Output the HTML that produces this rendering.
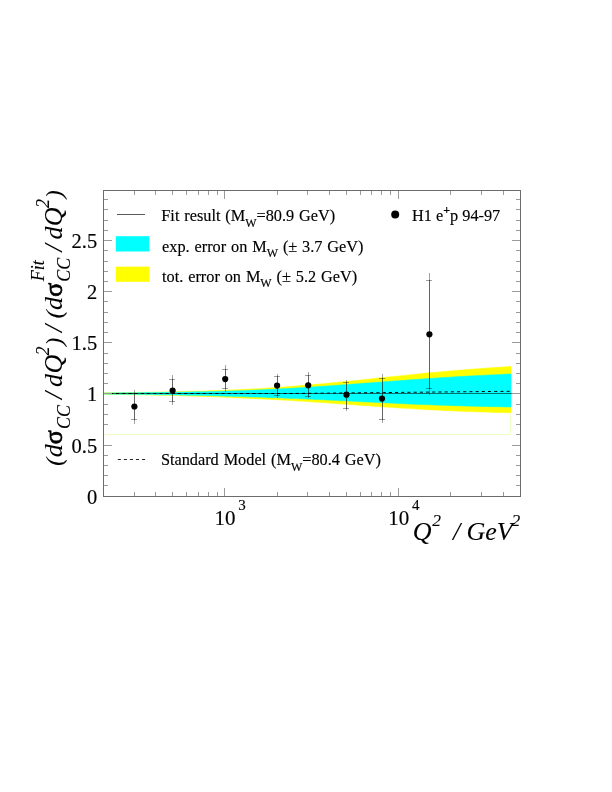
<!DOCTYPE html>
<html><head><meta charset="utf-8"><title>H1 CC cross section ratio</title>
<style>html,body{margin:0;padding:0;background:#fff;overflow:hidden}svg{display:block}text{font-family:"Liberation Serif",serif;fill:#000;stroke:#000;stroke-width:0.15px;stroke-linejoin:round}.i{font-style:italic}.i text{stroke-width:0.08px}.i text.sg{stroke-width:0.75px}</style></head><body>
<svg width="612" height="792" viewBox="0 0 612 792">
<rect width="612" height="792" fill="#fff"/>
<polygon points="103.60,392.79 108.69,392.74 113.78,392.69 118.88,392.63 123.97,392.57 129.06,392.51 134.16,392.44 139.25,392.37 144.34,392.30 149.43,392.22 154.52,392.13 159.62,392.04 164.71,391.94 169.80,391.84 174.89,391.73 179.99,391.62 185.08,391.49 190.17,391.36 195.26,391.23 200.36,391.08 205.45,390.93 210.54,390.76 215.63,390.59 220.73,390.41 225.82,390.22 230.91,390.02 236.00,389.80 241.10,389.58 246.19,389.35 251.28,389.09 256.38,388.78 261.47,388.47 266.56,388.14 271.65,387.80 276.75,387.44 281.84,387.07 286.93,386.69 292.02,386.30 297.12,385.90 302.21,385.48 307.30,385.05 312.39,384.61 317.49,384.16 322.58,383.69 327.67,383.22 332.76,382.73 337.85,382.24 342.95,381.74 348.04,381.23 353.13,380.71 358.23,380.19 363.32,379.66 368.41,379.13 373.50,378.60 378.60,378.07 383.69,377.53 388.78,377.00 393.87,376.46 398.96,375.93 404.06,375.41 409.15,374.88 414.24,374.37 419.34,373.86 424.43,373.36 429.52,372.87 434.61,372.39 439.70,371.91 444.80,371.45 449.89,371.00 454.98,370.56 460.08,370.13 465.17,369.72 470.26,369.31 475.35,368.92 480.44,368.55 485.54,368.18 490.63,367.83 495.72,367.49 500.81,367.16 505.91,366.85 511.00,366.54 511.00,412.81 505.91,412.69 500.81,412.56 495.72,412.43 490.63,412.28 485.54,412.12 480.44,411.96 475.35,411.78 470.26,411.59 465.17,411.40 460.08,411.19 454.98,410.98 449.89,410.75 444.80,410.51 439.70,410.26 434.61,410.01 429.52,409.74 424.43,409.46 419.34,409.17 414.24,408.87 409.15,408.57 404.06,408.25 398.96,407.93 393.87,407.60 388.78,407.26 383.69,406.91 378.60,406.57 373.50,406.21 368.41,405.85 363.32,405.49 358.23,405.13 353.13,404.76 348.04,404.40 342.95,404.04 337.85,403.67 332.76,403.31 327.67,402.96 322.58,402.61 317.49,402.26 312.39,401.92 307.30,401.58 302.21,401.25 297.12,400.93 292.02,400.62 286.93,400.32 281.84,400.03 276.75,399.74 271.65,399.47 266.56,399.20 261.47,398.95 256.38,398.71 251.28,398.47 246.19,398.22 241.10,397.97 236.00,397.73 230.91,397.50 225.82,397.28 220.73,397.07 215.63,396.87 210.54,396.68 205.45,396.50 200.36,396.33 195.26,396.16 190.17,396.01 185.08,395.86 179.99,395.72 174.89,395.59 169.80,395.46 164.71,395.34 159.62,395.23 154.52,395.13 149.43,395.03 144.34,394.93 139.25,394.84 134.16,394.76 129.06,394.68 123.97,394.61 118.88,394.54 113.78,394.48 108.69,394.41 103.60,394.36" fill="#ffff00" stroke="#ffff00" stroke-width="0.5"/>
<polygon points="103.60,392.98 108.69,392.94 113.78,392.91 118.88,392.87 123.97,392.82 129.06,392.78 134.16,392.73 139.25,392.68 144.34,392.62 149.43,392.56 154.52,392.50 159.62,392.44 164.71,392.37 169.80,392.29 174.89,392.21 179.99,392.13 185.08,392.04 190.17,391.95 195.26,391.85 200.36,391.74 205.45,391.63 210.54,391.51 215.63,391.39 220.73,391.26 225.82,391.12 230.91,390.97 236.00,390.82 241.10,390.66 246.19,390.49 251.28,390.30 256.38,390.07 261.47,389.83 266.56,389.58 271.65,389.32 276.75,389.06 281.84,388.78 286.93,388.50 292.02,388.20 297.12,387.90 302.21,387.59 307.30,387.28 312.39,386.95 317.49,386.62 322.58,386.27 327.67,385.93 332.76,385.57 337.85,385.21 342.95,384.85 348.04,384.47 353.13,384.10 358.23,383.72 363.32,383.34 368.41,382.96 373.50,382.57 378.60,382.19 383.69,381.80 388.78,381.42 393.87,381.04 398.96,380.66 404.06,380.28 409.15,379.91 414.24,379.54 419.34,379.18 424.43,378.83 429.52,378.48 434.61,378.13 439.70,377.80 444.80,377.47 449.89,377.15 454.98,376.84 460.08,376.53 465.17,376.24 470.26,375.95 475.35,375.67 480.44,375.40 485.54,375.14 490.63,374.89 495.72,374.65 500.81,374.41 505.91,374.19 511.00,373.97 511.00,407.00 505.91,406.92 500.81,406.83 495.72,406.73 490.63,406.63 485.54,406.52 480.44,406.40 475.35,406.28 470.26,406.15 465.17,406.01 460.08,405.86 454.98,405.70 449.89,405.54 444.80,405.37 439.70,405.19 434.61,405.01 429.52,404.82 424.43,404.62 419.34,404.41 414.24,404.20 409.15,403.98 404.06,403.75 398.96,403.52 393.87,403.28 388.78,403.04 383.69,402.80 378.60,402.55 373.50,402.30 368.41,402.05 363.32,401.79 358.23,401.53 353.13,401.28 348.04,401.02 342.95,400.77 337.85,400.51 332.76,400.26 327.67,400.02 322.58,399.77 317.49,399.53 312.39,399.30 307.30,399.07 302.21,398.84 297.12,398.62 292.02,398.41 286.93,398.21 281.84,398.01 276.75,397.82 271.65,397.63 266.56,397.45 261.47,397.29 256.38,397.12 251.28,396.97 246.19,396.80 241.10,396.62 236.00,396.45 230.91,396.29 225.82,396.13 220.73,395.99 215.63,395.85 210.54,395.71 205.45,395.58 200.36,395.46 195.26,395.35 190.17,395.24 185.08,395.14 179.99,395.04 174.89,394.95 169.80,394.86 164.71,394.78 159.62,394.70 154.52,394.63 149.43,394.56 144.34,394.49 139.25,394.43 134.16,394.37 129.06,394.32 123.97,394.27 118.88,394.22 113.78,394.18 108.69,394.13 103.60,394.09" fill="#00ffff" stroke="#00ffff" stroke-width="0.5"/>
<line x1="103.6" y1="393.5" x2="520.6" y2="393.5" stroke="#000" stroke-width="1" stroke-opacity="0.55"/>
<polyline points="103.60,393.50 108.69,393.50 113.78,393.50 118.88,393.50 123.97,393.50 129.06,393.50 134.16,393.50 139.25,393.50 144.34,393.50 149.43,393.50 154.52,393.50 159.62,393.50 164.71,393.50 169.80,393.50 174.89,393.50 179.99,393.50 185.08,393.50 190.17,393.50 195.26,393.50 200.36,393.50 205.45,393.50 210.54,393.50 215.63,393.50 220.73,393.50 225.82,393.50 230.91,393.50 236.00,393.50 241.10,393.50 246.19,393.50 251.28,393.50 256.38,393.50 261.47,393.50 266.56,393.50 271.65,393.50 276.75,393.50 281.84,393.50 286.93,393.50 292.02,393.48 297.12,393.43 302.21,393.38 307.30,393.33 312.39,393.28 317.49,393.23 322.58,393.18 327.67,393.13 332.76,393.07 337.85,393.02 342.95,392.97 348.04,392.92 353.13,392.87 358.23,392.82 363.32,392.77 368.41,392.72 373.50,392.67 378.60,392.62 383.69,392.57 388.78,392.52 393.87,392.47 398.96,392.42 404.06,392.36 409.15,392.31 414.24,392.26 419.34,392.21 424.43,392.16 429.52,392.11 434.61,392.06 439.70,392.01 444.80,391.96 449.89,391.91 454.98,391.86 460.08,391.81 465.17,391.76 470.26,391.71 475.35,391.65 480.44,391.60 485.54,391.55 490.63,391.50 495.72,391.45 500.81,391.40 505.91,391.35 511.00,391.30" fill="none" stroke="#000" stroke-width="1.0" stroke-dasharray="3.1 3.1"/>
<g fill="#9a9a9a"><rect x="104" y="485" width="4" height="1"/><rect x="516" y="485" width="4" height="1"/><rect x="104" y="475" width="4" height="1"/><rect x="516" y="475" width="4" height="1"/><rect x="104" y="465" width="4" height="1"/><rect x="516" y="465" width="4" height="1"/><rect x="104" y="455" width="4" height="1"/><rect x="516" y="455" width="4" height="1"/><rect x="104" y="445" width="8" height="1"/><rect x="512" y="445" width="8" height="1"/><rect x="104" y="434" width="4" height="1"/><rect x="516" y="434" width="4" height="1"/><rect x="104" y="424" width="4" height="1"/><rect x="516" y="424" width="4" height="1"/><rect x="104" y="414" width="4" height="1"/><rect x="516" y="414" width="4" height="1"/><rect x="104" y="404" width="4" height="1"/><rect x="516" y="404" width="4" height="1"/><rect x="104" y="393" width="8" height="1"/><rect x="512" y="393" width="8" height="1"/><rect x="104" y="383" width="4" height="1"/><rect x="516" y="383" width="4" height="1"/><rect x="104" y="373" width="4" height="1"/><rect x="516" y="373" width="4" height="1"/><rect x="104" y="363" width="4" height="1"/><rect x="516" y="363" width="4" height="1"/><rect x="104" y="353" width="4" height="1"/><rect x="516" y="353" width="4" height="1"/><rect x="104" y="342" width="8" height="1"/><rect x="512" y="342" width="8" height="1"/><rect x="104" y="332" width="4" height="1"/><rect x="516" y="332" width="4" height="1"/><rect x="104" y="322" width="4" height="1"/><rect x="516" y="322" width="4" height="1"/><rect x="104" y="312" width="4" height="1"/><rect x="516" y="312" width="4" height="1"/><rect x="104" y="301" width="4" height="1"/><rect x="516" y="301" width="4" height="1"/><rect x="104" y="291" width="8" height="1"/><rect x="512" y="291" width="8" height="1"/><rect x="104" y="281" width="4" height="1"/><rect x="516" y="281" width="4" height="1"/><rect x="104" y="271" width="4" height="1"/><rect x="516" y="271" width="4" height="1"/><rect x="104" y="261" width="4" height="1"/><rect x="516" y="261" width="4" height="1"/><rect x="104" y="250" width="4" height="1"/><rect x="516" y="250" width="4" height="1"/><rect x="104" y="240" width="8" height="1"/><rect x="512" y="240" width="8" height="1"/><rect x="104" y="230" width="4" height="1"/><rect x="516" y="230" width="4" height="1"/><rect x="104" y="220" width="4" height="1"/><rect x="516" y="220" width="4" height="1"/><rect x="104" y="209" width="4" height="1"/><rect x="516" y="209" width="4" height="1"/><rect x="104" y="199" width="4" height="1"/><rect x="516" y="199" width="4" height="1"/><rect x="134" y="492" width="1" height="4"/><rect x="134" y="191" width="1" height="4"/><rect x="155" y="492" width="1" height="4"/><rect x="155" y="191" width="1" height="4"/><rect x="172" y="492" width="1" height="4"/><rect x="172" y="191" width="1" height="4"/><rect x="186" y="492" width="1" height="4"/><rect x="186" y="191" width="1" height="4"/><rect x="198" y="492" width="1" height="4"/><rect x="198" y="191" width="1" height="4"/><rect x="208" y="492" width="1" height="4"/><rect x="208" y="191" width="1" height="4"/><rect x="217" y="492" width="1" height="4"/><rect x="217" y="191" width="1" height="4"/><rect x="224" y="488" width="1" height="8"/><rect x="224" y="191" width="1" height="8"/><rect x="277" y="492" width="1" height="4"/><rect x="277" y="191" width="1" height="4"/><rect x="307" y="492" width="1" height="4"/><rect x="307" y="191" width="1" height="4"/><rect x="329" y="492" width="1" height="4"/><rect x="329" y="191" width="1" height="4"/><rect x="346" y="492" width="1" height="4"/><rect x="346" y="191" width="1" height="4"/><rect x="360" y="492" width="1" height="4"/><rect x="360" y="191" width="1" height="4"/><rect x="371" y="492" width="1" height="4"/><rect x="371" y="191" width="1" height="4"/><rect x="381" y="492" width="1" height="4"/><rect x="381" y="191" width="1" height="4"/><rect x="390" y="492" width="1" height="4"/><rect x="390" y="191" width="1" height="4"/><rect x="398" y="488" width="1" height="8"/><rect x="398" y="191" width="1" height="8"/><rect x="450" y="492" width="1" height="4"/><rect x="450" y="191" width="1" height="4"/><rect x="481" y="492" width="1" height="4"/><rect x="481" y="191" width="1" height="4"/><rect x="503" y="492" width="1" height="4"/><rect x="503" y="191" width="1" height="4"/></g>
<path d="M104 434.5 H510.5 V414" fill="none" stroke="#ecffc8" stroke-width="1"/>
<g fill="#6c6c6c"><rect x="103" y="190" width="418" height="1"/><rect x="103" y="496" width="418" height="1"/><rect x="103" y="190" width="1" height="307"/><rect x="520" y="190" width="1" height="307"/></g>
<g fill="#000" fill-opacity="0.37"><rect x="134" y="390" width="1" height="34"/><rect x="134" y="393" width="1" height="27"/><rect x="131" y="393" width="6" height="1"/><rect x="131" y="419" width="6" height="1"/><rect x="172" y="375" width="1" height="30"/><rect x="172" y="379" width="1" height="23"/><rect x="169" y="379" width="6" height="1"/><rect x="169" y="401" width="6" height="1"/><rect x="225" y="365" width="1" height="27"/><rect x="225" y="369" width="1" height="20"/><rect x="222" y="369" width="6" height="1"/><rect x="222" y="388" width="6" height="1"/><rect x="277" y="374" width="1" height="24"/><rect x="277" y="376" width="1" height="20"/><rect x="274" y="376" width="6" height="1"/><rect x="274" y="395" width="6" height="1"/><rect x="308" y="372" width="1" height="26"/><rect x="308" y="375" width="1" height="22"/><rect x="305" y="375" width="6" height="1"/><rect x="305" y="396" width="6" height="1"/><rect x="346" y="380" width="1" height="31"/><rect x="346" y="382" width="1" height="27"/><rect x="343" y="382" width="6" height="1"/><rect x="343" y="408" width="6" height="1"/><rect x="382" y="374" width="1" height="49"/><rect x="382" y="378" width="1" height="42"/><rect x="379" y="378" width="6" height="1"/><rect x="379" y="419" width="6" height="1"/><rect x="429" y="273" width="1" height="122"/><rect x="429" y="280" width="1" height="109"/><rect x="426" y="280" width="6" height="1"/><rect x="426" y="388" width="6" height="1"/></g>
<g fill="#000"><circle cx="134.40" cy="406.5" r="3.1"/><circle cx="172.60" cy="390.5" r="3.1"/><circle cx="225.20" cy="379.1" r="3.1"/><circle cx="277.10" cy="385.6" r="3.1"/><circle cx="308.20" cy="385.3" r="3.1"/><circle cx="346.50" cy="394.7" r="3.1"/><circle cx="382.00" cy="398.6" r="3.1"/><circle cx="429.40" cy="334.3" r="3.1"/></g>
<rect x="117" y="214" width="28" height="1" fill="#5a5a5a"/>
<rect x="115.8" y="236.2" width="33.5" height="15.3" fill="#00ffff"/>
<rect x="115.8" y="266.7" width="33.5" height="15.1" fill="#ffff00"/>
<line x1="117.8" y1="459.5" x2="145.2" y2="459.5" stroke="#000" stroke-width="0.85" stroke-dasharray="3.1 2.95"/>
<circle cx="395.2" cy="214.6" r="4" fill="#000"/>
<text x="161.3" y="221.0" font-size="16.3" word-spacing="0.8">Fit result (M<tspan dy="5.6" font-size="12">W</tspan><tspan dy="-5.6">=80.9 GeV)</tspan></text>
<text x="162.1" y="251.7" font-size="16.3" word-spacing="0.8">exp. error on M<tspan dy="5.6" font-size="12">W</tspan><tspan dy="-5.6"> (± 3.7 GeV)</tspan></text>
<text x="162.1" y="281.8" font-size="16.3" word-spacing="0.8">tot. error on M<tspan dy="5.6" font-size="12">W</tspan><tspan dy="-5.6"> (± 5.2 GeV)</tspan></text>
<text x="160.9" y="465.0" font-size="16.3" word-spacing="0.8">Standard Model (M<tspan dy="5.6" font-size="12">W</tspan><tspan dy="-5.6">=80.4 GeV)</tspan></text>
<text x="412.0" y="221.0" font-size="16.3" word-spacing="0">H1 e<tspan dy="-6.9" font-size="12" font-weight="bold">+</tspan><tspan dy="6.9">p 94-97</tspan></text>
<text x="97.2" y="503.6" font-size="20.5" text-anchor="end">0</text>
<text x="97.2" y="452.5" font-size="20.5" text-anchor="end">0.5</text>
<text x="97.2" y="401.4" font-size="20.5" text-anchor="end">1</text>
<text x="97.2" y="350.3" font-size="20.5" text-anchor="end">1.5</text>
<text x="97.2" y="299.2" font-size="20.5" text-anchor="end">2</text>
<text x="97.2" y="248.1" font-size="20.5" text-anchor="end">2.5</text>
<text x="214.6" y="524.8" font-size="21">10</text>
<text x="238.3" y="510.4" font-size="15">3</text>
<text x="388.3" y="524.8" font-size="21">10</text>
<text x="412.0" y="510.4" font-size="15">4</text>
<g class="i">
<text x="412.75" y="539.5" font-size="26">Q</text>
<text x="432.25" y="526.3" font-size="17.5">2</text>
<text x="453.0" y="539.5" font-size="26">/</text>
<text x="466.5" y="539.5" font-size="26">GeV</text>
<text x="511.4" y="526.3" font-size="17.5">2</text>
</g>
<g class="i">
<text transform="translate(61.80,465.70) rotate(-90)" font-size="24">(</text>
<text transform="translate(62.30,457.30) rotate(-90)" font-size="26">d</text>
<text transform="translate(62.30,444.20) rotate(-90)" font-size="26" class="sg" font-style="normal">σ</text>
<text transform="translate(70.10,429.05) rotate(-90)" font-size="18">CC</text>
<text transform="translate(62.30,398.90) rotate(-90)" font-size="26">/</text>
<text transform="translate(62.30,386.90) rotate(-90)" font-size="26">d</text>
<text transform="translate(62.30,373.60) rotate(-90)" font-size="26">Q</text>
<text transform="translate(48.70,355.50) rotate(-90)" font-size="18">2</text>
<text transform="translate(61.80,345.70) rotate(-90)" font-size="24">)</text>
<text transform="translate(62.30,331.90) rotate(-90)" font-size="26">/</text>
<text transform="translate(61.80,318.30) rotate(-90)" font-size="24">(</text>
<text transform="translate(62.30,309.90) rotate(-90)" font-size="26">d</text>
<text transform="translate(62.30,296.80) rotate(-90)" font-size="26" class="sg" font-style="normal">σ</text>
<text transform="translate(70.10,281.65) rotate(-90)" font-size="18">CC</text>
<text transform="translate(62.30,251.50) rotate(-90)" font-size="26">/</text>
<text transform="translate(62.30,239.50) rotate(-90)" font-size="26">d</text>
<text transform="translate(62.30,226.20) rotate(-90)" font-size="26">Q</text>
<text transform="translate(48.70,208.10) rotate(-90)" font-size="18">2</text>
<text transform="translate(61.80,198.30) rotate(-90)" font-size="24">)</text>
<text transform="translate(43.90,281.20) rotate(-90)" font-size="18">Fit</text>
</g>
</svg></body></html>
